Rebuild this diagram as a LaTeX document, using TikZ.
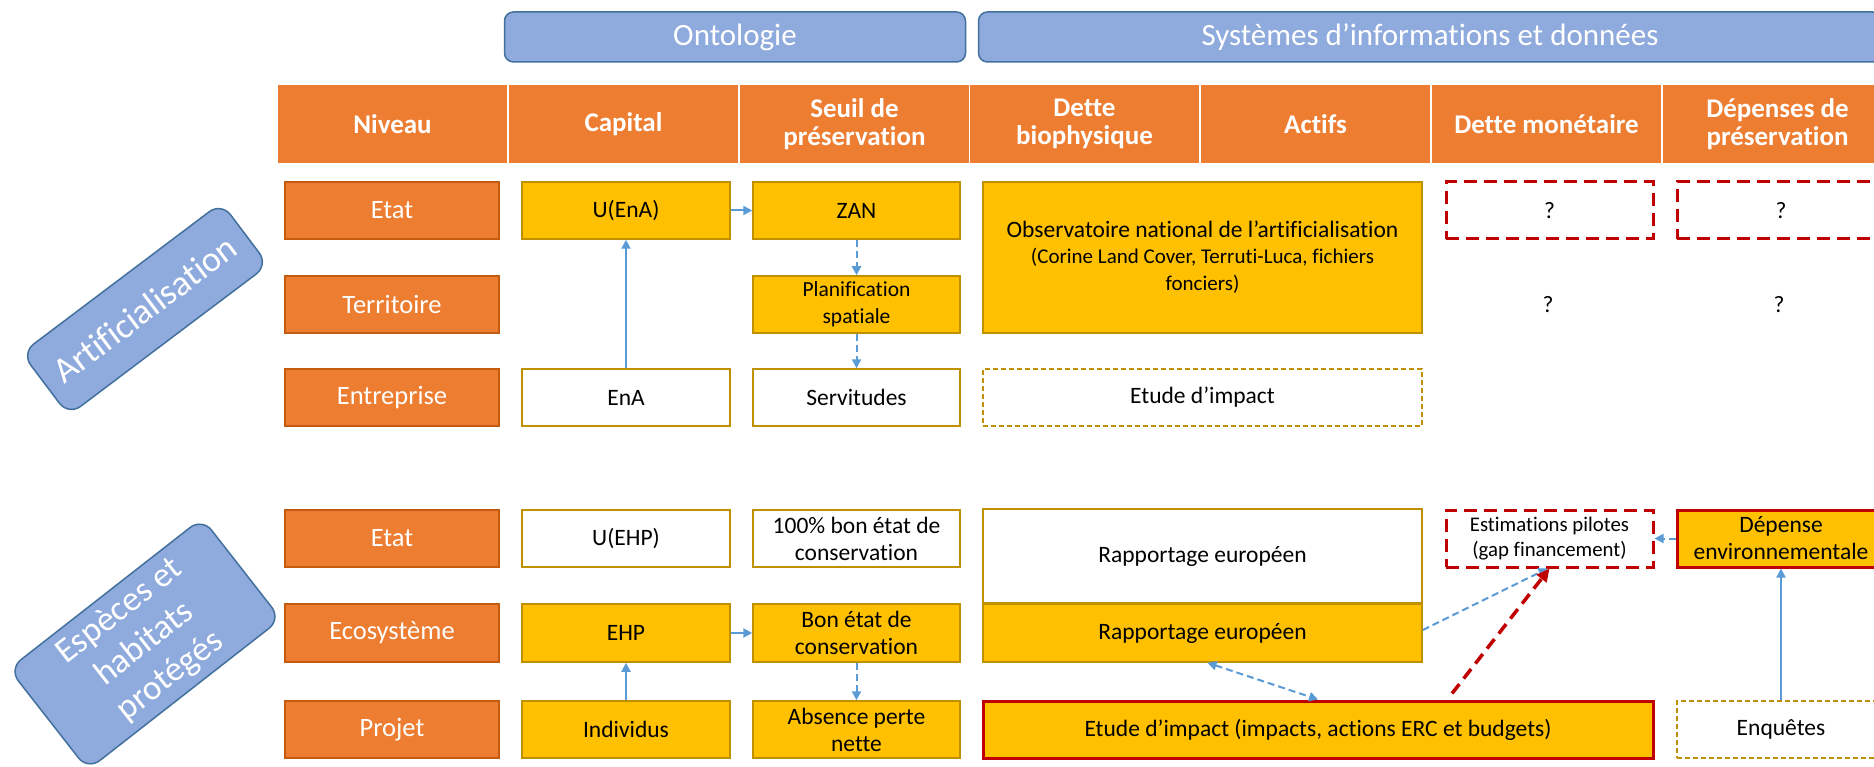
\documentclass[tikz,border=0pt]{standalone}
\usepackage{fontspec}
\setmainfont{Carlito}[Ligatures=NoCommon, RawFeature={-liga;-clig;-calt;-dlig}]
\usetikzlibrary{arrows.meta}
\definecolor{orgF}{HTML}{ED7D31}
\definecolor{orgD}{HTML}{C55A11}
\definecolor{goldF}{HTML}{FFC000}
\definecolor{goldD}{HTML}{BF9000}
\definecolor{blueF}{HTML}{8FAADC}
\definecolor{blueD}{HTML}{41719C}
\definecolor{arrB}{HTML}{5B9BD5}
\definecolor{redD}{HTML}{C00000}
\newcommand\fsz[2]{\fontsize{#1}{#2}\selectfont}
\newcommand\tI{t\kern0pt i}
\tikzset{
  every node/.style={inner sep=2pt, align=center, font=\fsz{23.5}{27}},
  hdr/.style={fill=orgF, text=white, minimum width=229, minimum height=78, font=\bfseries\fsz{27}{28}},
  lvl/.style={fill=orgF, draw=orgD, line width=1.5, text=white, minimum width=214, minimum height=57, font=\fsz{26.5}{30}},
  ybox/.style={fill=goldF, draw=goldD, line width=1.5, minimum width=208, minimum height=57},
  wbox/.style={fill=white, draw=goldD, line width=1.5, minimum width=208, minimum height=57},
  dgbox/.style={draw=goldD, line width=1.5, dash pattern=on 5pt off 3pt, minimum width=208, minimum height=57},
  rdbox/.style={draw=redD, line width=3, dash pattern=on 13pt off 7pt, minimum width=207, minimum height=57},
  rbox/.style={fill=goldF, draw=redD, line width=3, minimum height=57},
  banner/.style={fill=blueF, draw=blueD, line width=1.5, rounded corners=9, text=white, font=\fsz{31}{36}},
  rbanner/.style={fill=blueF, draw=blueD, line width=1.5, rounded corners=15, text=white, font=\fsz{35}{41}},
  arr/.style={draw=arrB, line width=2, -{Triangle[length=9pt,width=9pt]}},
  darr/.style={arr, dash pattern=on 7pt off 4pt},
  ddarr/.style={draw=arrB, line width=2, dash pattern=on 7pt off 4pt, {Triangle[length=9pt,width=9pt]}-{Triangle[length=9pt,width=9pt]}},
  redarr/.style={draw=redD, line width=3.5, dash pattern=on 12pt off 7pt, -{Triangle[length=13pt,width=12pt]}},
  qm/.style={font=\fsz{23.5}{27}}
}
\begin{document}
\begin{tikzpicture}[x=1pt,y=-1pt]
\useasboundingbox (0,0) rectangle (1874,767);
\clip (0,0) rectangle (1874,767);
\fill[white] (0,0) rectangle (1874,767);

% banners
\node[banner, minimum width=461, minimum height=50] (onto) at (735,37) {Ontologie};
\node[banner, minimum width=903, minimum height=50] (sys) at (1430,37) {Systèmes d’informa\tI ons et données};

% header
\node[hdr] (hniv) at (392.5,124) {Niveau};
\node[hdr] (hcap) at (623.5,124) {Capital};
\node[hdr] (hseuil) at (854.5,124) {Seuil de\\préserva\tI on};
\node[hdr] (hdette) at (1084.5,124) {Dette\\biophysique};
\node[hdr] (hact) at (1315.5,124) {Actifs};
\node[hdr] (hmon) at (1546.5,124) {Dette monétaire};
\node[hdr] (hdep) at (1777.5,124) {Dépenses de\\préserva\tI on};

% rotated section labels
\node[rbanner, rotate=37, minimum width=250, minimum height=78, font=\fsz{36}{41}] (art) at (145,309) {Ar\tI ficialisa\tI on};
\node[rbanner, rotate=38, minimum width=245, minimum height=128] (esp) at (145,644) {Espèces et\\habitats\\protégés};

% section 1
\node[lvl] (l1) at (392,210.5) {Etat};
\node[lvl] (l2) at (392,304.5) {Territoire};
\node[lvl] (l3) at (392,397.5) {Entreprise};

\node[ybox] (uena) at (626,210.5) {U(EnA)};
\node[wbox] (ena) at (626,397.5) {EnA};
\node[ybox, minimum width=207] (zan) at (856.5,210.5) {ZAN};
\node[ybox, minimum width=207, font=\fsz{21.5}{27}] (planif) at (856.5,304.5) {Planifica\tI on\\spa\tI ale};
\node[wbox, minimum width=207] (servi) at (856.5,397.5) {Servitudes};

\node[ybox, minimum width=439, minimum height=151] (obs) at (1202.5,257.5) {Observatoire na\tI onal de l’ar\tI ficialisa\tI on\\[-1pt]{\fsz{21}{27}(Corine Land Cover, Terru\tI-Luca, fichiers}\\{\fsz{21}{27}fonciers)}};
\node[dgbox, minimum width=439] (etude1) at (1202.5,397.5) {Etude d’impact};
\node[rdbox] (q1) at (1549.5,210.5) {?};
\node[rdbox, minimum width=208] (q2) at (1781,210.5) {?};
\node[qm] (q3) at (1548,305) {?};
\node[qm] (q4) at (1779,305) {?};

% section 2
\node[lvl] (m1) at (392,538.5) {Etat};
\node[lvl, minimum height=58] (m2) at (392,633) {Ecosystème};
\node[lvl] (m3) at (392,729.5) {Projet};

\node[wbox] (uehp) at (626,538.5) {U(EHP)};
\node[ybox, minimum height=58] (ehp) at (626,633) {EHP};
\node[ybox] (indiv) at (626,729.5) {Individus};
\node[wbox, minimum width=207] (cent) at (856.5,538.5) {100\% bon état de\\conserva\tI on};
\node[ybox, minimum width=207, minimum height=58] (bon) at (856.5,633) {Bon état de\\conserva\tI on};
\node[ybox, minimum width=207] (absence) at (856.5,729.5) {Absence perte\\nette};

\node[wbox, minimum width=439, minimum height=94] (rapW) at (1202.5,556) {Rapportage européen};
\node[ybox, minimum width=439, minimum height=58] (rapY) at (1202.5,633) {Rapportage européen};
\node[rbox, minimum width=670] (etude2) at (1318,729.5) {Etude d’impact (impacts, ac\tI ons ERC et budgets)};
\node[rdbox, font=\fsz{20.8}{25}] (estim) at (1549.5,538.5) {Es\tI ma\tI ons pilotes\\(gap financement)};
\node[rbox, minimum width=208] (depenv) at (1781,538.5) {Dépense\\environnementale};
\node[dgbox] (enq) at (1781,729.5) {Enquêtes};

% connectors
\draw[arr] (uena) -- (zan);
\draw[arr] (ena) -- (uena);
\draw[darr] (zan) -- (planif);
\draw[darr] (planif) -- (servi);
\draw[arr] (ehp) -- (bon);
\draw[arr] (indiv) -- (ehp);
\draw[darr] (bon) -- (absence);
\draw[ddarr] ([xshift=5pt]rapY.south) -- (etude2.north);
\draw[darr] ([yshift=3pt]rapY.east) -- ([xshift=-2pt]estim.south);
\draw[redarr] ([xshift=134pt,yshift=6pt]etude2.north) -- (estim.south);
\draw[darr] (depenv) -- (estim);
\draw[arr] (enq) -- (depenv);
\end{tikzpicture}
\end{document}
